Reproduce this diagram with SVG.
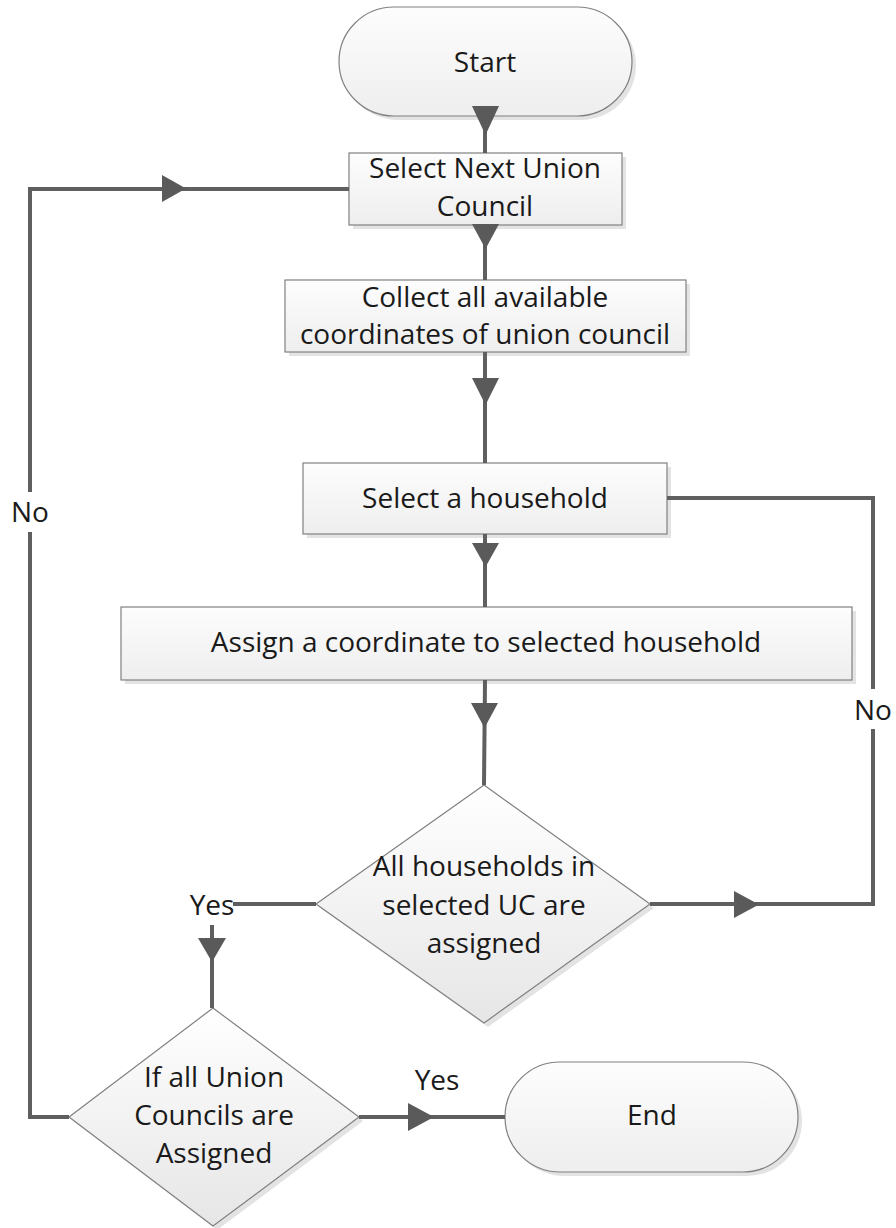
<svg xmlns="http://www.w3.org/2000/svg" width="896" height="1228" viewBox="0 0 896 1228">
  <defs>
    <linearGradient id="fillBox" x1="0" y1="0" x2="0" y2="1">
      <stop offset="0" stop-color="#fdfdfd"/>
      <stop offset="1" stop-color="#eeeeee"/>
    </linearGradient>
    <linearGradient id="fillDiamond" x1="0" y1="0" x2="0" y2="1">
      <stop offset="0" stop-color="#ffffff"/>
      <stop offset="1" stop-color="#e6e6e6"/>
    </linearGradient>
    <style>
      .shape { fill: url(#fillBox); stroke: #808080; stroke-width: 1.2; }
      .decision { fill: url(#fillDiamond); stroke: #808080; stroke-width: 1.2; }
      .shadow { fill: #e3e3e3; stroke: none; }
      .label { font-family: "Open Sans", "Liberation Sans", sans-serif; font-size: 28px; fill: #1a1a1a; text-anchor: middle; }
      .wire { fill: none; stroke: #5f5f5f; stroke-width: 4; stroke-linejoin: miter; stroke-linecap: butt; }
      .head { fill: #5a5a5a; stroke: none; }
    </style>
  </defs>

  <!-- terminator: Start -->
  <g id="start">
    <rect class="shadow" x="343" y="11" width="293" height="109" rx="55" ry="55"/>
    <rect class="shape" x="339" y="7" width="293" height="109" rx="55" ry="55"/>
    <text class="label" x="485" y="72">Start</text>
  </g>

  <!-- process: Select Next Union Council -->
  <g id="select-uc">
    <rect class="shadow" x="353" y="157" width="273" height="72"/>
    <rect class="shape" x="349" y="153" width="273" height="72"/>
    <text class="label" x="485" y="178">Select Next Union</text>
    <text class="label" x="485" y="216">Council</text>
  </g>

  <!-- process: Collect coordinates -->
  <g id="collect">
    <rect class="shadow" x="289" y="284" width="401" height="72"/>
    <rect class="shape" x="285" y="280" width="401" height="72"/>
    <text class="label" x="485" y="307">Collect all available</text>
    <text class="label" x="485" y="344">coordinates of union council</text>
  </g>

  <!-- process: Select a household -->
  <g id="household">
    <rect class="shadow" x="307" y="467" width="364" height="71"/>
    <rect class="shape" x="303" y="463" width="364" height="71"/>
    <text class="label" x="485" y="508">Select a household</text>
  </g>

  <!-- process: Assign coordinate -->
  <g id="assign">
    <rect class="shadow" x="125" y="611" width="731" height="73"/>
    <rect class="shape" x="121" y="607" width="731" height="73"/>
    <text class="label" x="486" y="652">Assign a coordinate to selected household</text>
  </g>

  <!-- decision: all households assigned -->
  <g id="households-done">
    <polygon class="shadow" points="488,789 654,908 488,1027 320,908"/>
    <polygon class="decision" points="484,785 650,904 484,1023 316,904"/>
    <text class="label" x="484" y="876">All households in</text>
    <text class="label" x="484" y="915">selected UC are</text>
    <text class="label" x="484" y="953">assigned</text>
  </g>

  <!-- decision: all union councils assigned -->
  <g id="ucs-done">
    <polygon class="shadow" points="217,1012 363,1121 217,1230 73,1121"/>
    <polygon class="decision" points="213,1008 359,1117 213,1226 69,1117"/>
    <text class="label" x="214" y="1087">If all Union</text>
    <text class="label" x="214" y="1125">Councils are</text>
    <text class="label" x="214" y="1163">Assigned</text>
  </g>

  <!-- terminator: End -->
  <g id="end">
    <rect class="shadow" x="509" y="1066" width="293" height="110" rx="55" ry="55"/>
    <rect class="shape" x="505" y="1062" width="293" height="110" rx="55" ry="55"/>
    <text class="label" x="652" y="1125">End</text>
  </g>

  <!-- connectors -->
  <g id="connectors">
    <!-- main flow down the middle -->
    <path class="wire" d="M485 116 V153"/>
    <polygon class="head" points="472,106 499,106 485.5,135"/>
    <path class="wire" d="M485 225 V280"/>
    <polygon class="head" points="472,224 499,224 485.5,249"/>
    <path class="wire" d="M485 352 V463"/>
    <polygon class="head" points="472,378 499,378 485.5,405"/>
    <path class="wire" d="M485 534 V607"/>
    <polygon class="head" points="472,543 499,543 485.5,567"/>
    <path class="wire" d="M485 680 L484 785"/>
    <polygon class="head" points="471,703 498,703 484.5,728"/>

    <!-- households not all assigned: back to Select a household -->
    <path class="wire" d="M650 904 H873 V729"/>
    <path class="wire" d="M873 689 V498 H667"/>
    <polygon class="head" points="734,891 734,918 759,904.5"/>
    <text class="label" x="873" y="720">No</text>

    <!-- households assigned: check union councils -->
    <path class="wire" d="M316 904 H233"/>
    <text class="label" x="212" y="915">Yes</text>
    <path class="wire" d="M212 925 V1008"/>
    <polygon class="head" points="198,938 226,938 212,962"/>

    <!-- all union councils assigned: End -->
    <path class="wire" d="M359 1117 H505"/>
    <polygon class="head" points="408,1103 408,1131 434,1117"/>
    <text class="label" x="437" y="1090">Yes</text>

    <!-- union councils remaining: loop to Select Next Union Council -->
    <path class="wire" d="M69 1117 H30 V532"/>
    <path class="wire" d="M30 492 V189 H349"/>
    <polygon class="head" points="162,175 162,202 186,188.5"/>
    <text class="label" x="30" y="522">No</text>
  </g>
</svg>
